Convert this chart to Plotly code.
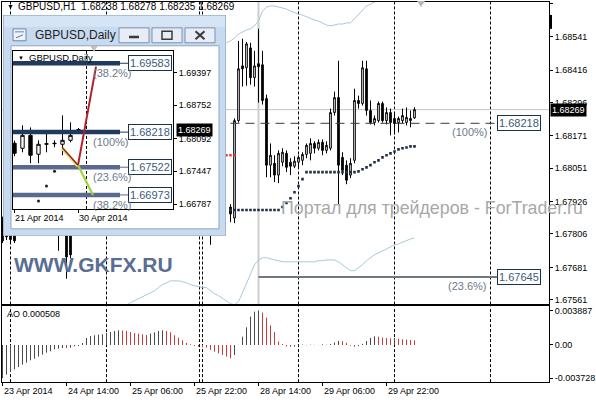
import plotly.graph_objects as go

W, H = 596, 400
def px(x):
    return x / W
def py(y):
    return 1 - y / H

FONT = "Liberation Sans, Arial, sans-serif"

# ---------------- main GBPUSD H1 chart (bar index 0 = 24 Apr 00:00) ----------------
bar_idx = [-2, -1, 0, 1, 12, 14, 15, 17, 18, 50,
           55, 56, 57, 58, 59, 60, 61, 62, 63, 64, 65, 66, 67, 68, 69, 70, 71, 72, 73,
           74, 75, 76, 77, 78, 79, 80, 81, 82, 83, 84, 85, 86, 87, 88, 89, 90, 91, 92,
           93, 94, 95, 96, 97, 98, 99, 100, 101]
bar_open = [1.67840, 1.67850, 1.67860, 1.67850, 1.67900, 1.67880, 1.67820, 1.67900, 1.67880, 1.67950,
            1.67906, 1.67865, 1.68228, 1.68432, 1.68425, 1.68499, 1.68388, 1.68440, 1.68436, 1.68310,
            1.68062, 1.68069, 1.68025, 1.68073, 1.68106, 1.68073, 1.68058, 1.68073, 1.68080,
            1.68102, 1.68106, 1.68143, 1.68125, 1.68147, 1.68117, 1.68125, 1.68258, 1.68314, 1.68091,
            1.68062, 1.68025, 1.68080, 1.68303, 1.68292, 1.68421, 1.68266, 1.68221, 1.68228,
            1.68292, 1.68228, 1.68258, 1.68236, 1.68221, 1.68228, 1.68221, 1.68228, 1.68238]
bar_high = [1.67870, 1.67880, 1.67890, 1.67880, 1.67930, 1.67900, 1.67850, 1.67930, 1.67910, 1.67980,
            1.67917, 1.68236, 1.68525, 1.68533, 1.68521, 1.68518, 1.68488, 1.68570, 1.68488, 1.68325,
            1.68143, 1.68099, 1.68117, 1.68125, 1.68117, 1.68088, 1.68095, 1.68099, 1.68110,
            1.68143, 1.68162, 1.68151, 1.68158, 1.68158, 1.68151, 1.68273, 1.68336, 1.68451, 1.68110,
            1.68080, 1.68088, 1.68347, 1.68321, 1.68451, 1.68451, 1.68303, 1.68247, 1.68299,
            1.68299, 1.68277, 1.68273, 1.68254, 1.68243, 1.68273, 1.68277, 1.68266, 1.68278]
bar_low = [1.67772, 1.67783, 1.67776, 1.67772, 1.67743, 1.67639, 1.67715, 1.67798, 1.67802, 1.67765,
           1.67850, 1.67846, 1.68221, 1.68355, 1.68358, 1.68362, 1.68355, 1.68295, 1.68288, 1.68017,
           1.68017, 1.67999, 1.67995, 1.68058, 1.68036, 1.68025, 1.68051, 1.68054, 1.68062,
           1.68088, 1.68080, 1.68106, 1.68117, 1.68099, 1.68106, 1.68117, 1.68247, 1.67913, 1.68025,
           1.67991, 1.68014, 1.68069, 1.68273, 1.68284, 1.68247, 1.68214, 1.68210, 1.68221,
           1.68221, 1.68214, 1.68173, 1.68177, 1.68184, 1.68217, 1.68210, 1.68203, 1.68235]
bar_close = [1.67780, 1.67795, 1.67785, 1.67780, 1.67880, 1.67720, 1.67728, 1.67860, 1.67850, 1.67920,
             1.67880, 1.68228, 1.68421, 1.68421, 1.68514, 1.68388, 1.68432, 1.68429, 1.68303, 1.68062,
             1.68099, 1.68025, 1.68106, 1.68110, 1.68054, 1.68058, 1.68077, 1.68091, 1.68102,
             1.68136, 1.68143, 1.68125, 1.68147, 1.68117, 1.68136, 1.68258, 1.68314, 1.68062, 1.68043,
             1.68006, 1.68069, 1.68303, 1.68292, 1.68425, 1.68266, 1.68221, 1.68236, 1.68292,
             1.68228, 1.68258, 1.68221, 1.68217, 1.68236, 1.68247, 1.68240, 1.68236, 1.68269]

sar_idx = list(range(55, 102))
sar_values = [1.67895] * 13 + [1.67906, 1.67921, 1.67939, 1.67961, 1.67984, 1.68010, 1.68036] + \
             [1.68036] * 12 + [1.68039, 1.68047, 1.68054, 1.68062, 1.68073, 1.68080, 1.68091,
                               1.68099, 1.68106, 1.68113, 1.68121, 1.68125, 1.68128, 1.68132, 1.68132]

red_idx = [54, 55, 56]
red_values = [1.68099, 1.68099, 1.68099]

band_up_idx = list(range(54, 94))
band_up = [1.68518, 1.68525, 1.68536, 1.68551, 1.68558, 1.68566, 1.68570, 1.68581, 1.68599, 1.68636,
           1.68651, 1.68655, 1.68655, 1.68651, 1.68647, 1.68644, 1.68636, 1.68629, 1.68625, 1.68621,
           1.68614, 1.68607, 1.68603, 1.68599, 1.68592, 1.68584, 1.68581, 1.68584, 1.68588, 1.68588,
           1.68592, 1.68592, 1.68607, 1.68625, 1.68640, 1.68655, 1.68662, 1.68670, 1.68677, 1.68685]
band_lo_idx = list(range(29, 102))
band_lo = [1.67539, 1.67550, 1.67557, 1.67565, 1.67572, 1.67580, 1.67587, 1.67594, 1.67606, 1.67617,
           1.67624, 1.67631, 1.67631, 1.67631, 1.67628, 1.67624, 1.67617, 1.67613, 1.67609, 1.67606,
           1.67606, 1.67594, 1.67583, 1.67576, 1.67565, 1.67554, 1.67546, 1.67542, 1.67554, 1.67587,
           1.67620, 1.67654, 1.67691, 1.67709, 1.67717, 1.67717, 1.67713, 1.67709, 1.67706,
           1.67702, 1.67702, 1.67702, 1.67702, 1.67702, 1.67702, 1.67702, 1.67702, 1.67702,
           1.67706, 1.67706, 1.67709, 1.67709, 1.67709, 1.67702, 1.67691, 1.67680, 1.67669, 1.67669,
           1.67680, 1.67691, 1.67706, 1.67717, 1.67728, 1.67735, 1.67743, 1.67750, 1.67758, 1.67765,
           1.67769, 1.67776, 1.67783, 1.67787, 1.67791]

fib_main_levels = [1.68218, 1.67645]
fib_main_labels = ["(100%)", "(23.6%)"]

price_ticks = [1.68666, 1.68541, 1.68416, 1.68296, 1.68171, 1.68051, 1.67926, 1.67806, 1.67681, 1.67561]

# Awesome Oscillator, bars -2 .. 101
ao_start = -2
ao_values = [-0.003728, -0.00334, -0.00304, -0.00274, -0.00248, -0.00221, -0.00199, -0.00173, -0.00154,
             -0.00131, -0.00109, -0.00086, -0.00071, -0.00049, -0.00041, -0.00034, -0.00036, -0.00030,
             -0.00015, -0.00011, 0.00023, 0.00079, 0.00101, 0.00109, 0.00116, 0.00120, 0.00135, 0.00146,
             0.00158, 0.00165, 0.00163, 0.00158, 0.00146, 0.00135, 0.00128, 0.00120, 0.00113, 0.00128,
             0.00143, 0.00158, 0.00165, 0.00158, 0.00143, 0.00109, 0.00083, 0.00053, 0.00023, 0.00008,
             -0.00011, -0.00019, -0.00026, -0.00030, -0.00056, -0.00075, -0.00094, -0.00113, -0.00131,
             -0.00150, -0.00113, 0.00002, 0.00094, 0.00199, 0.00319, 0.00375, 0.003887, 0.00365, 0.00308,
             0.00221, 0.00146, 0.00038, 0.00011, -0.00015, -0.00020, -0.00018, -0.00010, 0.00005,
             -0.00003, 0.00004, 0.00002, -0.00002, 0.00008, 0.00003, 0.00010, 0.00028, 0.00045, 0.00042,
             0.00025, -0.00008, -0.00020, -0.00012, 0.00012, 0.00045, 0.00079, 0.00098, 0.00094, 0.00083,
             0.00079, 0.00075, 0.00079, 0.00071, 0.00064, 0.00060, 0.00056, 0.000508]
ao_ticks = [0.003887, 0.0, -0.003728]
ao_ticktext = ["0.003887", "0.00", "-0.003728"]

time_tick_idx = [-2, 14, 30, 46, 62, 78, 94]
time_tick_labels = ["23 Apr 2014", "24 Apr 14:00", "25 Apr 06:00", "25 Apr 22:00",
                    "28 Apr 14:00", "29 Apr 06:00", "29 Apr 22:00"]
separator_idx = [0, 24, 47.25, 48, 72, 96, 120]

# ---------------- inset GBPUSD Daily chart ----------------
d_idx = [0, 1, 2, 3, 4, 5, 6, 7, 8]
d_open = [1.67997, 1.67898, 1.68154, 1.67780, 1.67977, 1.67997, 1.67977, 1.68056, 1.68250]
d_high = [1.68050, 1.68352, 1.68312, 1.68056, 1.68253, 1.68056, 1.68549, 1.68411, 1.68300]
d_low = [1.67740, 1.67819, 1.67602, 1.67602, 1.67819, 1.67918, 1.67760, 1.68016, 1.68200]
d_close = [1.67799, 1.68154, 1.67760, 1.67977, 1.67987, 1.67990, 1.68056, 1.68154, 1.68269]
d_sar_idx = [3, 4, 5]
d_sar = [1.66853, 1.67148, 1.67444]
d_fib_levels = [1.69583, 1.68218, 1.67522, 1.66973]
d_fib_labels = ["(38.2%)", "(100%)", "(23.6%)", "(38.2%)"]
d_price_ticks = [1.69397, 1.68752, 1.68092, 1.67447, 1.66787]
d_date_idx = [0, 8]
d_date_labels = ["21 Apr 2014", "30 Apr 2014"]
wave_brown = ([5.94, 7.94], [1.67918, 1.67563])
wave_red = ([7.94, 10.19], [1.67563, 1.69515])
wave_green = ([7.94, 9.81], [1.67563, 1.66971])
d_separator = 9

# ---------------- ranges ----------------
X_RANGE = [-2.125, 134.625]
Y_MAIN = [1.67543, 1.68670]
Y_AO = [-0.004176, 0.004335]
XD_RANGE = [-0.1875, 19.8125]
YD_RANGE = [1.66695, 1.69831]

fig = go.Figure()
cs = dict(increasing=dict(line=dict(color="black", width=1), fillcolor="white"),
          decreasing=dict(line=dict(color="black", width=1), fillcolor="black"),
          whiskerwidth=0, hoverinfo="skip", showlegend=False)

# main subplot traces
fig.add_trace(go.Candlestick(x=bar_idx, open=bar_open, high=bar_high, low=bar_low, close=bar_close,
                             xaxis="x", yaxis="y", **cs))
fig.add_trace(go.Scatter(x=band_up_idx, y=band_up, mode="lines", line=dict(color="#a7c9d8", width=1),
                         xaxis="x", yaxis="y", hoverinfo="skip"))
fig.add_trace(go.Scatter(x=band_lo_idx, y=band_lo, mode="lines", line=dict(color="#a7c9d8", width=1),
                         xaxis="x", yaxis="y", hoverinfo="skip"))
fig.add_trace(go.Scatter(x=[40, 121.6], y=[fib_main_levels[0]] * 2, mode="lines",
                         line=dict(color="#3a3a3a", width=1, dash="9px,6px"),
                         xaxis="x", yaxis="y", hoverinfo="skip"))
fig.add_trace(go.Scatter(x=[62, 121.6], y=[fib_main_levels[1]] * 2, mode="lines",
                         line=dict(color="#6f7785", width=2), xaxis="x", yaxis="y", hoverinfo="skip"))
fig.add_trace(go.Scatter(x=sar_idx, y=sar_values, mode="markers",
                         marker=dict(symbol="square", size=2.6, color="#1d2f45", line=dict(width=0)),
                         xaxis="x", yaxis="y", hoverinfo="skip"))
fig.add_trace(go.Scatter(x=red_idx, y=red_values, mode="markers",
                         marker=dict(symbol="square", size=2.4, color="#e03a3a", line=dict(width=0)),
                         xaxis="x", yaxis="y", hoverinfo="skip"))

# window frame subplot (covers main chart)
fig.add_trace(go.Scatter(x=[100], y=[100], mode="markers", marker=dict(opacity=0),
                         xaxis="x2", yaxis="y2", hoverinfo="skip"))

# inset traces
fig.add_trace(go.Candlestick(x=d_idx, open=d_open, high=d_high, low=d_low, close=d_close,
                             xaxis="x3", yaxis="y3", **cs))
fig.add_trace(go.Scatter(x=d_sar_idx, y=d_sar, mode="markers",
                         marker=dict(symbol="circle", size=3, color="#202020", line=dict(width=0)),
                         xaxis="x3", yaxis="y3", hoverinfo="skip"))
fib_cols = ["#1f3a5c", "#1f3a5c", "#5a6a8e", "#5a6a8e"]
for lvl, col in zip(d_fib_levels, fib_cols):
    fig.add_trace(go.Scatter(x=[XD_RANGE[0], 13.19], y=[lvl, lvl], mode="lines",
                             line=dict(color=col, width=4.5), xaxis="x3", yaxis="y3", hoverinfo="skip"))
    fig.add_trace(go.Scatter(x=[13.19, 14.19], y=[lvl, lvl], mode="lines",
                             line=dict(color=col, width=1), xaxis="x3", yaxis="y3", hoverinfo="skip"))
fig.add_trace(go.Scatter(x=wave_brown[0], y=[v - 0.0002 for v in wave_brown[1]], mode="lines",
                         line=dict(color="#f0dc7a", width=3), xaxis="x3", yaxis="y3", hoverinfo="skip"))
fig.add_trace(go.Scatter(x=wave_brown[0], y=wave_brown[1], mode="lines",
                         line=dict(color="#8b3218", width=1.6), xaxis="x3", yaxis="y3", hoverinfo="skip"))
fig.add_trace(go.Scatter(x=wave_green[0], y=wave_green[1], mode="lines",
                         line=dict(color="#a4d040", width=2.2), xaxis="x3", yaxis="y3", hoverinfo="skip"))
fig.add_trace(go.Scatter(x=wave_red[0], y=wave_red[1], mode="lines",
                         line=dict(color="#b3202c", width=2), xaxis="x3", yaxis="y3", hoverinfo="skip"))

# AO histogram
up_x, up_y, dn_x, dn_y = [], [], [], []
for n, v in enumerate(ao_values):
    i = ao_start + n
    rising = n == 0 or v > ao_values[n - 1]
    if rising:
        up_x += [i, i, None]; up_y += [0, v, None]
    else:
        dn_x += [i, i, None]; dn_y += [0, v, None]
fig.add_trace(go.Scatter(x=up_x, y=up_y, mode="lines", line=dict(color="#4a4a4a", width=1),
                         xaxis="x4", yaxis="y4", hoverinfo="skip"))
fig.add_trace(go.Scatter(x=dn_x, y=dn_y, mode="lines", line=dict(color="#cc3b3b", width=1),
                         xaxis="x4", yaxis="y4", hoverinfo="skip"))

# ---------------- shapes ----------------
shapes = []
for s in separator_idx:
    shapes.append(dict(type="line", xref="x", yref="y", x0=s, x1=s, y0=Y_MAIN[0], y1=Y_MAIN[1],
                       layer="below", line=dict(color="black", width=1, dash="3px,2px")))
    shapes.append(dict(type="line", xref="x4", yref="y4", x0=s, x1=s, y0=Y_AO[0], y1=Y_AO[1],
                       layer="below", line=dict(color="black", width=1, dash="3px,2px")))
shapes.append(dict(type="line", xref="x", yref="y", x0=X_RANGE[0], x1=X_RANGE[1],
                   y0=bar_close[-1], y1=bar_close[-1], layer="below", line=dict(color="#c4c4c4", width=1)))
shapes.append(dict(type="line", xref="x", yref="y", x0=62, x1=62, y0=Y_MAIN[0], y1=Y_MAIN[1],
                   layer="below", line=dict(color="#cdcdcd", width=2)))
# window frame (frame subplot, pixel units)
fr = dict(xref="x2", yref="y2", layer="below")
shapes += [
    dict(type="rect", x0=3, x1=226, y0=14, y1=236, fillcolor="#c8daef", line=dict(color="#7b96b8", width=1), **fr),
    dict(type="rect", x0=4, x1=225, y0=15, y1=26, fillcolor="#d6e5f6", line=dict(width=0), **fr),
    dict(type="rect", x0=11, x1=219, y0=45, y1=229, fillcolor="white", line=dict(color="#8ea6c4", width=1), **fr),
    dict(type="rect", x0=119, x1=149, y0=27, y1=42, fillcolor="#e6edf6", line=dict(color="#7d92ae", width=1), **fr),
    dict(type="rect", x0=152, x1=182, y0=27, y1=42, fillcolor="#e6edf6", line=dict(color="#7d92ae", width=1), **fr),
    dict(type="rect", x0=185, x1=215, y0=27, y1=42, fillcolor="#e6edf6", line=dict(color="#7d92ae", width=1), **fr),
    dict(type="rect", x0=129, x1=139, y0=35, y1=37.5, fillcolor="#3a3a3a", line=dict(width=0), **fr),
    dict(type="rect", x0=162, x1=172, y0=30.5, y1=38.5, fillcolor="rgba(0,0,0,0)", line=dict(color="#3a3a3a", width=1.5), **fr),
    dict(type="line", x0=195.5, x1=204.5, y0=30.5, y1=38.5, line=dict(color="#3a3a3a", width=2), **fr),
    dict(type="line", x0=195.5, x1=204.5, y0=38.5, y1=30.5, line=dict(color="#3a3a3a", width=2), **fr),
    dict(type="rect", x0=13, x1=26, y0=28, y1=40, fillcolor="#eef3f9", line=dict(color="#6c86a6", width=1), **fr),
    dict(type="line", x0=15, x1=24, y0=31, y1=31, line=dict(color="#6c86a6", width=1), **fr),
    dict(type="line", x0=16, x1=23, y0=37, y1=34, line=dict(color="#4a78b0", width=1), **fr),
]
shapes.append(dict(type="line", xref="x3", yref="y3", x0=d_separator, x1=d_separator,
                   y0=YD_RANGE[0], y1=YD_RANGE[1], layer="below",
                   line=dict(color="black", width=1, dash="3px,2px")))
# small markers
shapes.append(dict(type="rect", xref="paper", yref="paper", x0=px(549), x1=px(552), y0=py(28), y1=py(14),
                   fillcolor="black", line=dict(width=0)))
shapes.append(dict(type="path", xref="paper", yref="paper",
                   path=f"M {px(417)} {py(0)} L {px(425)} {py(0)} L {px(421)} {py(6)} Z",
                   fillcolor="#b8b8b8", line=dict(width=0)))
shapes.append(dict(type="path", xref="paper", yref="paper",
                   path=f"M {px(90)} {py(45)} L {px(98)} {py(45)} L {px(94)} {py(51)} Z",
                   fillcolor="#c0c0c0", line=dict(width=0)))

# ---------------- annotations ----------------
ann = []
def text(x, y, s, size=9, color="black", xanchor="left", yanchor="middle", xref="paper", yref="paper", **kw):
    ann.append(dict(x=x, y=y, text=s, showarrow=False, xref=xref, yref=yref, xanchor=xanchor,
                    yanchor=yanchor, font=dict(family=FONT, size=size, color=color), **kw))

text(px(5), py(6), "▼", size=7)
text(px(16), py(6), f"GBPUSD,H1  {bar_open[-1]:.5f} {bar_high[-1]:.5f} {bar_low[-1]:.5f} {bar_close[-1]:.5f}", size=10)
box = dict(bordercolor="#1e3246", borderwidth=1, borderpad=1, bgcolor="white")
for lvl, lab in zip(fib_main_levels, fib_main_labels):
    text(121.6, lvl, f"{lvl:.5f}", size=11, color="#3c5a7c", xref="x", yref="y", **box)
    text(119.6, lvl, lab, size=11, color="#6c7a89", xanchor="right", yanchor="top", xref="x", yref="y", yshift=-1)
text(px(279), py(208), "Портал для трейдеров - ForTrader.ru", size=17.8, color="#a8a8a8")
ann.append(dict(x=px(12), y=py(265), text="<b>WWW.GKFX.RU</b>", showarrow=False, xref="paper", yref="paper",
                xanchor="left", yanchor="middle", font=dict(family=FONT, size=21, color="#5a6d93")))
text(px(549.5), py(109.5), f"{bar_close[-1]:.5f}", size=9, color="white", bgcolor="black", borderpad=1)
text(px(5), py(315), f"AO {ao_values[-1]:.6f}", size=9)
for i, lab in zip(time_tick_idx, time_tick_labels):
    text(i, py(392), lab, size=9, xref="x4", xshift=-1)
# inset texts
text(px(33), py(34), "GBPUSD,Daily", size=12, color="#222222")
text(px(16), py(57), "▼", size=6)
text(px(27), py(57), "GBPUSD,Daily", size=9.5)
for lvl, lab in zip(d_fib_levels, d_fib_labels):
    text(14.19, lvl, f"{lvl:.5f}", size=11, color="#3c5a7c", xref="x3", yref="y3", **box)
    text(9.56, lvl, lab, size=11, color="#6c7a89", yanchor="top", xref="x3", yref="y3", yshift=-2)
text(px(175.5), py(129.5), f"{d_close[-1]:.5f}", size=9, color="white", bgcolor="black", borderpad=1)
for i, lab in zip(d_date_idx, d_date_labels):
    text(i, py(218), lab, size=9, xref="x3", xshift=-2)

axis_font = dict(family=FONT, size=9, color="black")
common_line = dict(showline=True, mirror=True, linecolor="black", linewidth=1, showgrid=False, zeroline=False)
fig.update_layout(
    width=W, height=H, margin=dict(l=0, r=0, t=0, b=0),
    paper_bgcolor="white", plot_bgcolor="white", showlegend=False, hovermode=False,
    boxgap=0.4,
    xaxis=dict(domain=[px(2), px(549)], range=X_RANGE, anchor="y", showticklabels=False, ticks="",
               rangeslider=dict(visible=False), **common_line),
    yaxis=dict(domain=[py(305), py(1)], range=Y_MAIN, anchor="x", side="right",
               tickvals=price_ticks, ticktext=[f"{v:.5f}" for v in price_ticks],
               ticks="outside", ticklen=3, tickcolor="black", tickfont=axis_font, **common_line),
    xaxis2=dict(domain=[px(3), px(226)], range=[3, 226], anchor="y2", visible=False),
    yaxis2=dict(domain=[py(236), py(14)], range=[236, 14], anchor="x2", visible=False),
    xaxis3=dict(domain=[px(13), px(173)], range=XD_RANGE, anchor="y3", showticklabels=False,
                tickvals=d_date_idx, ticks="outside", ticklen=3, tickcolor="black",
                rangeslider=dict(visible=False), **common_line),
    yaxis3=dict(domain=[py(209), py(50)], range=YD_RANGE, anchor="x3", side="right",
                tickvals=d_price_ticks, ticktext=[f"{v:.5f}" for v in d_price_ticks],
                ticks="outside", ticklen=3, tickcolor="black", tickfont=axis_font, **common_line),
    xaxis4=dict(domain=[px(2), px(549)], range=X_RANGE, anchor="y4", showticklabels=False,
                tickvals=time_tick_idx, ticks="outside", ticklen=3, tickcolor="black", **common_line),
    yaxis4=dict(domain=[py(383), py(307)], range=Y_AO, anchor="x4", side="right",
                tickvals=ao_ticks, ticktext=ao_ticktext,
                ticks="outside", ticklen=3, tickcolor="black", tickfont=axis_font, **common_line),
    shapes=shapes, annotations=ann,
)

fig.write_html("out.html", config={"displayModeBar": False},
               post_script="document.body.style.margin='0px';document.body.style.overflow='hidden';")
